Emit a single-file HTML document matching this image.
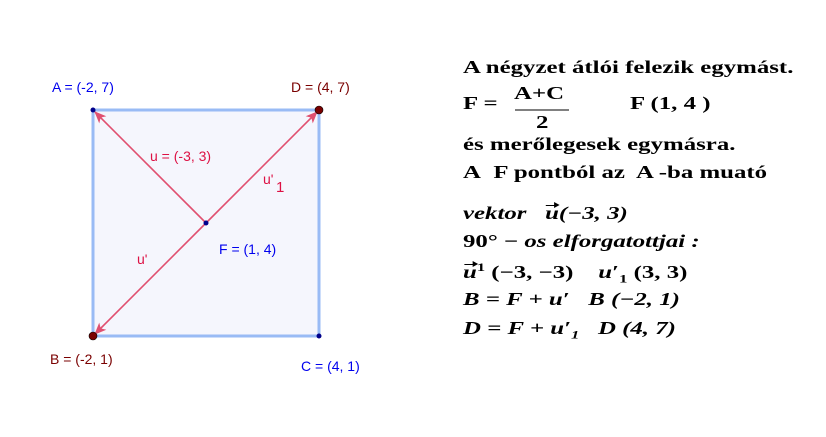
<!DOCTYPE html>
<html><head><meta charset="utf-8"><style>
body{margin:0;background:#fff;width:826px;height:437px;overflow:hidden;position:relative}
.t{position:absolute;font-family:"Liberation Serif",serif;font-weight:bold;font-size:18px;color:#000;white-space:nowrap;transform:scaleX(1.38);transform-origin:0 0}
.i{font-style:italic}
.v{position:relative;display:inline-block}
.v::before{content:"";position:absolute;left:1px;top:2px;width:8px;border-top:1.5px solid #000}
.v::after{content:"";position:absolute;left:7px;top:-1px;border-left:4px solid #000;border-top:3px solid transparent;border-bottom:3px solid transparent;transform:translateY(0)}
sub,sup{font-size:12px}
</style></head><body>
<svg width="826" height="437" style="position:absolute;left:0;top:0" font-family="Liberation Sans, sans-serif" font-size="14">
<defs><marker id="ar" markerWidth="12" markerHeight="10" refX="11" refY="5" orient="auto" markerUnits="userSpaceOnUse"><path d="M0,0 L12,5 L0,10 L3,5 z" fill="#e05070"/></marker></defs>
<rect x="93" y="110" width="226" height="226" fill="#f5f6fd" stroke="#99bbf5" stroke-width="3"/>
<line x1="206" y1="223" x2="95" y2="112" stroke="#e05070" stroke-width="1.6" marker-end="url(#ar)"/>
<line x1="206" y1="223" x2="317" y2="112" stroke="#e05070" stroke-width="1.6" marker-end="url(#ar)"/>
<line x1="206" y1="223" x2="95" y2="334" stroke="#e05070" stroke-width="1.6" marker-end="url(#ar)"/>
<circle cx="93" cy="110" r="2.5" fill="#00008b"/>
<circle cx="319" cy="110" r="4" fill="#7a0000" stroke="#000" stroke-width="0.6"/>
<circle cx="93" cy="336" r="4" fill="#7a0000" stroke="#000" stroke-width="0.6"/>
<circle cx="319" cy="336" r="2.5" fill="#00008b"/>
<circle cx="206" cy="223" r="2.5" fill="#00008b"/>
<text x="52" y="92" fill="#0000ee">A = (-2, 7)</text>
<text x="291" y="92" fill="#7a0000">D = (4, 7)</text>
<text x="50" y="364" fill="#7a0000">B = (-2, 1)</text>
<text x="301" y="371" fill="#0000ee">C = (4, 1)</text>
<text x="219" y="254" fill="#0000ee">F = (1, 4)</text>
<text x="150" y="161" fill="#dd1144">u = (-3, 3)</text>
<text x="263" y="184" fill="#dd1144">u'</text><text x="276" y="192" fill="#dd1144" font-size="15">1</text>
<text x="137" y="264" fill="#dd1144">u'</text>
<line x1="515" y1="110" x2="569" y2="110" stroke="#000" stroke-width="1"/>
</svg>
<div class="t" style="left:463px;top:57px">A négyzet átlói felezik egymást.</div>
<div class="t" style="left:463px;top:93px">F =</div>
<div class="t" style="left:514px;top:83px">A+C</div>
<div class="t" style="left:536px;top:112px">2</div>
<div class="t" style="left:630px;top:93px">F (1, 4 )</div>
<div class="t" style="left:463px;top:134px">és merőlegesek egymásra.</div>
<div class="t" style="left:463px;top:162px">A&nbsp; F pontból az&nbsp; A -ba muató</div>
<div class="t i" style="left:463px;top:203px">vektor &nbsp; <span class="v">u</span>(−3, 3)</div>
<div class="t" style="left:463px;top:231px">90° − <i>os elforgatottjai :</i></div>
<div class="t" style="left:463px;top:260px"><i class="v">u</i><sup>1</sup> (−3, −3) &nbsp;&nbsp; <i>u</i>′<sub>1</sub> (3, 3)</div>
<div class="t i" style="left:463px;top:289px">B = F + u′ &nbsp; B (−2, 1)</div>
<div class="t i" style="left:463px;top:318px">D = F + u′<sub>1</sub> &nbsp; D (4, 7)</div>
</body></html>
